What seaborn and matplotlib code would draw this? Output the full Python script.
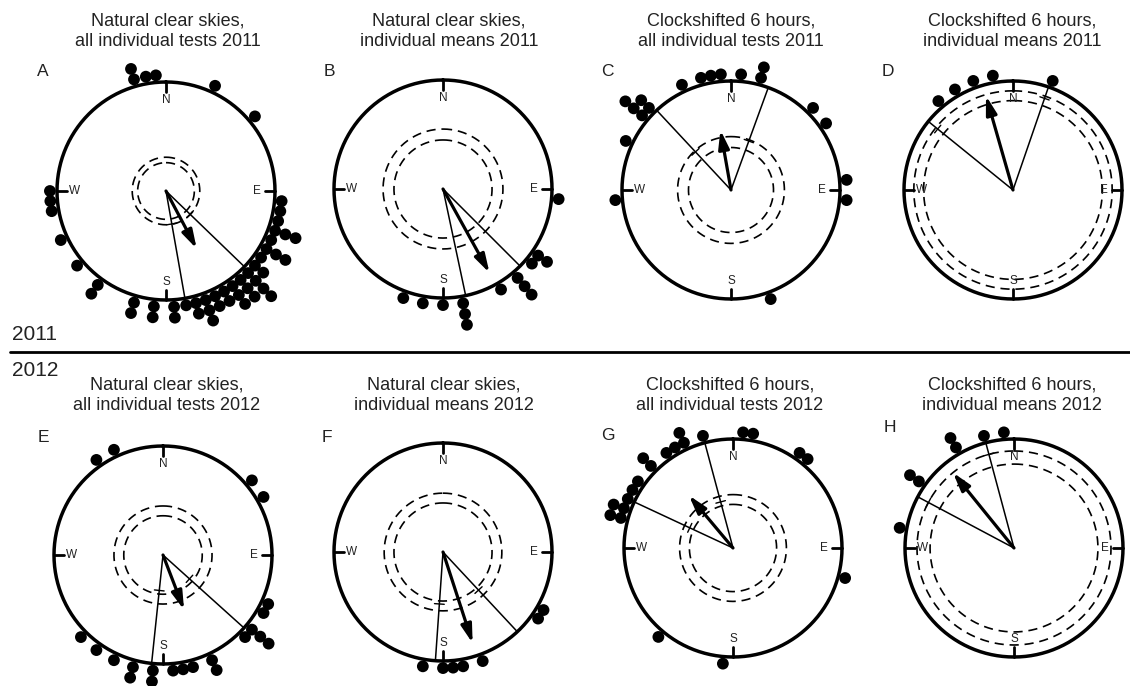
import numpy as np
import pandas as pd
import matplotlib
matplotlib.use("Agg")
import matplotlib.pyplot as plt
import seaborn as sns
from matplotlib.lines import Line2D

# Individual headings, degrees clockwise from north. Repeated values stack outward.
dots_A = [344, 344, 350, 355, 25, 50, 270, 265, 260, 245, 230, 216, 216,
          196, 196, 186, 186, 176, 176, 170, 165, 165, 160, 160, 160, 155, 155,
          150, 150, 145, 145, 145, 140, 140, 140, 135, 135, 135, 135, 130, 130,
          125, 120, 120, 120, 115, 110, 110, 110, 105, 100, 95]
dots_B = [95, 125, 125, 130, 140, 140, 140, 150, 170, 170, 170, 180, 190, 200]
dots_C = [335, 345, 350, 355, 5, 15, 15, 310, 310, 310, 315, 315, 295, 265,
          45, 55, 85, 95, 160]
dots_D = [320, 330, 340, 350, 20]
dots_E = [325, 335, 50, 60, 115, 120, 130, 130, 130, 135, 225, 215, 205,
          195, 195, 185, 185, 175, 170, 165, 155, 155]
dots_F = [120, 125, 160, 170, 175, 180, 190]
dots_G = [345, 335, 335, 330, 325, 315, 315, 305, 300, 295, 290, 290, 285,
          285, 5, 10, 35, 40, 105, 220, 185]
dots_H = [330, 330, 345, 355, 305, 305, 280]
all_dots = [dots_A, dots_B, dots_C, dots_D, dots_E, dots_F, dots_G, dots_H]

# mean vector (direction, length) and 95% confidence interval
mean_dir = [152, 151, 350, 344, 159, 162, 320, 321]
mean_len = [0.60, 0.88, 0.56, 0.90, 0.54, 0.88, 0.63, 0.89]
ci_low = [134, 135, 317, 309, 132, 137, 295, 298]
ci_high = [170, 168, 20, 19, 186, 184, 345, 345]
ci_tick = [0.31, None, 0.48, 0.89, 0.33, 0.48, 0.44, 0.89]
# Rayleigh critical values (p<0.05 inner, p<0.01 outer)
crit_05 = [0.26, 0.45, 0.39, 0.82, 0.36, 0.45, 0.40, 0.77]
crit_01 = [0.31, 0.55, 0.49, 0.91, 0.45, 0.54, 0.49, 0.89]

letters = ["A", "B", "C", "D", "E", "F", "G", "H"]
titles = ["Natural clear skies,\nall individual tests 2011",
          "Natural clear skies,\nindividual means 2011",
          "Clockshifted 6 hours,\nall individual tests 2011",
          "Clockshifted 6 hours,\nindividual means 2011",
          "Natural clear skies,\nall individual tests 2012",
          "Natural clear skies,\nindividual means 2012",
          "Clockshifted 6 hours,\nall individual tests 2012",
          "Clockshifted 6 hours,\nindividual means 2012"]
compass = ["N", "E", "S", "W"]
compass_deg = [0, 90, 180, 270]
year_labels = ["2011", "2012"]

sns.set_style("white")
plt.rcParams['font.family'] = ['Liberation Sans', 'DejaVu Sans']

W, H = 1130, 686
fig = plt.figure(figsize=(W / 100, H / 100), dpi=100)
fig.patch.set_facecolor("white")

R = 109          # px radius of the unit circle
RMAX = 1.5
centers = [(166, 191), (443, 189), (731, 190), (1013, 190),
           (163, 555), (443, 552), (733, 548), (1014, 548)]
title_x = [168, 449, 731, 1012, 167, 444, 730, 1012]
title_y = [31, 31, 31, 31, 395, 395, 395, 395]
letter_xy = [(43, 72), (329, 72), (607, 72), (888, 72),
             (43, 437), (327, 437), (608, 435), (890, 428)]

full = np.linspace(0, 2 * np.pi, 361)
for i in range(8):
    cx, cy = centers[i]
    half = RMAX * R
    ax = fig.add_axes([(cx - half) / W, (H - cy - half) / H, 2 * half / W, 2 * half / H],
                      projection="polar")
    ax.set_theta_zero_location("N")
    ax.set_theta_direction(-1)
    ax.axis("off")

    # outer circle and compass ticks
    ax.plot(full, np.ones_like(full), color="black", lw=2.5, zorder=2)
    for lab, d in zip(compass, compass_deg):
        t = np.deg2rad(d)
        ax.plot([t, t], [0.91, 1.0], color="black", lw=2.0, zorder=2)
        ax.text(t, 0.835, lab, ha="center", va="center", fontsize=8.5, color="#222222")

    # significance circles
    for rc in (crit_05[i], crit_01[i]):
        ax.plot(full, np.full_like(full, rc), color="black", lw=1.2,
                ls=(0, (5.5, 3.5)), zorder=2)

    # confidence interval lines with ticks
    for d in (ci_low[i], ci_high[i]):
        t = np.deg2rad(d)
        ax.plot([t, t], [0, 1.0], color="black", lw=1.1, zorder=2)
        if ci_tick[i] is not None:
            rt = ci_tick[i]
            dt = 0.045 / rt
            ax.plot([t - dt, t + dt], [rt, rt], color="black", lw=1.0, zorder=2)

    # mean vector
    tm = np.deg2rad(mean_dir[i])
    ax.annotate("", xy=(tm, mean_len[i]), xytext=(0, 0),
                arrowprops=dict(arrowstyle="-|>,head_length=1.1,head_width=0.32",
                                lw=2.3, color="black", shrinkA=0, shrinkB=0),
                zorder=3)

    # stacked dots
    df = pd.DataFrame({"bearing": all_dots[i]})
    df["level"] = df.groupby("bearing").cumcount()
    df["theta"] = np.deg2rad(df["bearing"])
    df["r"] = 1.065 + 0.1 * df["level"]
    sns.scatterplot(data=df, x="theta", y="r", ax=ax, color="black", s=72,
                    edgecolor="none", legend=False, zorder=4)
    ax.set_ylim(0, RMAX)

    fig.text(title_x[i] / W, 1 - title_y[i] / H, titles[i], ha="center", va="center",
             fontsize=13, linespacing=1.3, color="#222222")
    lx, ly = letter_xy[i]
    fig.text(lx / W, 1 - ly / H, letters[i], ha="center", va="center",
             fontsize=12.5, color="#222222")

# year separator
fig.add_artist(Line2D([10 / W, 1.0], [1 - 352 / H, 1 - 352 / H], color="black", lw=2,
                      transform=fig.transFigure))
fig.text(12 / W, 1 - 334 / H, year_labels[0], ha="left", va="center", fontsize=15,
         color="#222222")
fig.text(12 / W, 1 - 370 / H, year_labels[1], ha="left", va="center", fontsize=15,
         color="#222222")

fig.savefig("out.png", dpi=100, facecolor="white")
